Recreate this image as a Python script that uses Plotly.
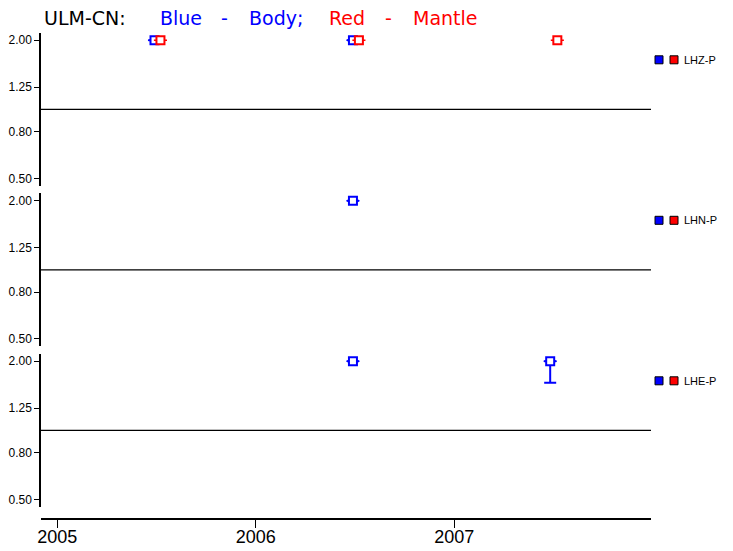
import plotly.graph_objects as go

W, H = 733, 551

# ---- data ----
channels = ["LHZ-P", "LHN-P", "LHE-P"]
body_x = [[2005.49, 2006.49], [2006.49], [2006.49, 2007.484]]
body_y = [[2.0, 2.0], [2.0], [2.0, 2.0]]
body_err_minus = [[0.0, 0.0], [0.0], [0.0, 0.39]]
mantle_x = [[2005.52, 2006.52, 2007.52], [], []]
mantle_y = [[2.0, 2.0, 2.0], [], []]
x_err = 0.033
ytick_vals = [0.5, 0.8, 1.25, 2.0]
ytick_text = ["0.50", "0.80", "1.25", "2.00"]
xtick_vals = [2005, 2006, 2007]
xtick_text = ["2005", "2006", "2007"]

BLUE = "#0000ff"
RED = "#ff0000"
FONT = "Liberation Sans, Arial, sans-serif"
TFONT = "DejaVu Sans, sans-serif"

fig = go.Figure()

x_left_px, x_right_px = 41, 651
centers = [109.3, 269.8, 430.3]
half = 76.5

def py(px):
    return 1 - px / H

for i in range(3):
    ya = "y" if i == 0 else f"y{i+1}"
    if body_x[i]:
        fig.add_trace(go.Scatter(
            x=body_x[i], y=body_y[i], mode="markers", yaxis=ya, xaxis="x",
            marker=dict(symbol="square", size=8, color="white",
                        line=dict(color=BLUE, width=2)),
            error_x=dict(type="data", array=[x_err] * len(body_x[i]),
                         color=BLUE, thickness=1.5, width=0),
            error_y=dict(type="data", symmetric=False,
                         array=[0] * len(body_x[i]),
                         arrayminus=body_err_minus[i],
                         color=BLUE, thickness=2, width=6),
            showlegend=False, cliponaxis=False, hoverinfo="skip"))
    if mantle_x[i]:
        fig.add_trace(go.Scatter(
            x=mantle_x[i], y=mantle_y[i], mode="markers", yaxis=ya, xaxis="x",
            marker=dict(symbol="square", size=8, color="white",
                        line=dict(color=RED, width=2)),
            error_x=dict(type="data", array=[x_err] * len(mantle_x[i]),
                         color=RED, thickness=1.5, width=0),
            showlegend=False, cliponaxis=False, hoverinfo="skip"))

layout = dict(
    width=W, height=H, margin=dict(l=0, r=0, t=0, b=0, autoexpand=False),
    paper_bgcolor="white", plot_bgcolor="white",
    font=dict(family=FONT, color="black"),
    xaxis=dict(domain=[x_left_px / W, x_right_px / W],
               range=[2004.918, 2007.992], anchor="free",
               position=py(519), showline=True, linecolor="black",
               linewidth=1.5, ticks="outside", ticklen=2, tickwidth=1,
               tickcolor="black", tickvals=xtick_vals, ticktext=xtick_text,
               minor=dict(tickvals=xtick_vals, ticks="outside", ticklen=8,
                          tickwidth=1, tickcolor="black", showgrid=False),
               tickfont=dict(size=18, family=FONT), showgrid=False,
               zeroline=False, automargin=False),
)
shapes = []
annotations = []
for i in range(3):
    key = "yaxis" if i == 0 else f"yaxis{i+1}"
    c = centers[i]
    layout[key] = dict(
        domain=[py(c + half), py(c - half)], type="log",
        range=[-0.333, 0.333], anchor="x", showline=True,
        linecolor="black", linewidth=1.5, ticks="outside", ticklen=5,
        tickwidth=1, tickcolor="black", tickvals=ytick_vals,
        ticktext=ytick_text, tickfont=dict(size=12, family=FONT),
        showgrid=False, zeroline=False, automargin=False)
    yref = "y" if i == 0 else f"y{i+1}"
    # reference line at 1.0
    shapes.append(dict(type="line", xref="x domain", yref=yref,
                       x0=0, x1=1, y0=1.0, y1=1.0,
                       line=dict(color="black", width=1.2)))
    # legend squares
    ly = c - 49.5
    for x0, col in [(655, BLUE), (670, RED)]:
        shapes.append(dict(type="rect", xref="paper", yref="paper",
                           x0=x0 / W, x1=(x0 + 8) / W,
                           y0=py(ly + 4), y1=py(ly - 4),
                           fillcolor=col, line=dict(color="black", width=1)))
    annotations.append(dict(text=channels[i], xref="paper", yref="paper",
                            x=682 / W, y=py(ly), xanchor="left",
                            yanchor="middle", showarrow=False,
                            font=dict(size=11, family=FONT, color="black")))

# title pieces (positioned word by word as in the reference)
title_parts = [("ULM-CN:", 42, "black"), ("Blue", 158, BLUE), ("-", 219, BLUE),
               ("Body;", 247, BLUE), ("Red", 327, RED), ("-", 383, RED),
               ("Mantle", 411, RED)]
for txt, x0, col in title_parts:
    annotations.append(dict(text=txt, xref="paper", yref="paper",
                            x=x0 / W, y=py(18), xanchor="left",
                            yanchor="middle", showarrow=False,
                            font=dict(size=19, family=TFONT, color=col)))

layout["shapes"] = shapes
layout["annotations"] = annotations
fig.update_layout(**layout)
fig.write_html("out.html",
               config={"displayModeBar": False},
               post_script="document.body.style.margin='0';")
